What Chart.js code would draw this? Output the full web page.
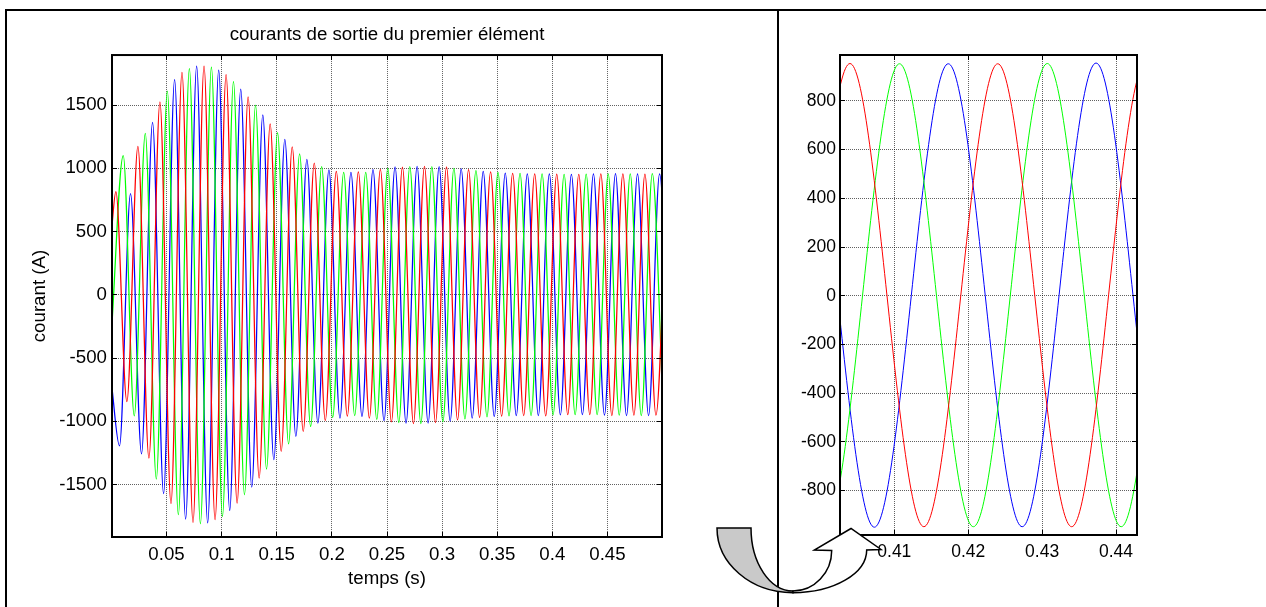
<!DOCTYPE html>
<html>
<head>
<meta charset="utf-8">
<title>courants de sortie du premier élément</title>
<script src="https://cdn.jsdelivr.net/npm/chart.js@4.4.1/dist/chart.umd.min.js"></script>
<style>
  html, body { margin: 0; padding: 0; background: #fff; overflow: hidden; }
  body { position: relative; width: 1266px; height: 607px; }
  #frame { position: absolute; left: 5px; top: 9px; width: 1400px; height: 800px; border: 2px solid #000; }
  #divider { position: absolute; left: 777px; top: 9px; width: 2px; height: 700px; background: #000; }
  canvas { position: absolute; top: 0; }
  #left { left: 0; }
  #right { left: 780px; }
  #arrow { position: absolute; left: 0; top: 0; }
</style>
</head>
<body>
<div id="frame"></div>
<div id="divider"></div>
<canvas id="left" width="770" height="607"></canvas>
<canvas id="right" width="486" height="607"></canvas>
<svg id="arrow" width="1266" height="607">
  <path d="M 717 528 L 751 528 C 751 562.8 769.8 591 793 591 L 793 592.7 C 751 592.7 717 563.7 717 528 Z"
        fill="#c9c9c9" stroke="#000" stroke-width="1.5"/>
  <path d="M 793 591 C 814.4 591 831.7 572.6 831.7 550.5 L 814.3 550 L 851 528.5 L 881 549.5 L 866.7 550 C 866.7 573.6 833.7 592.7 793 592.7 Z"
        fill="#fff" stroke="#000" stroke-width="1.5"/>
</svg>
<script>
// phase currents: successive crests / troughs, one every half period (50 Hz)
const halfPeriod = 0.01;
const redStart = 0.004;     // first red crest
const greenStart = 0.0107;  // first green crest
const blueStart = 0.0073;   // first blue trough
const initialValues = [500, -300, -700]; // red, green, blue at t = 0

const redExtrema = [816, -844, 1172, -1291, 1525, -1652, 1758, -1799, 1808, -1778,
    1740, -1647, 1565, -1449, 1350, -1238, 1170, -1080, 1040, -994,
    975, -960, 972, -975, 992, -1005, 1008, -1018, 1015, -1010,
    1010, -990, 990, -970, 972, -960, 960, -955, 956, -958,
    953, -948, 952, -948, 955, -955, 956, -952, 953, -952, 955];

const greenExtrema = [1100, -957, 1275, -1457, 1610, -1739, 1788, -1810, 1800, -1752,
    1685, -1581, 1500, -1378, 1282, -1178, 1113, -1041, 1012, -970,
    968, -955, 968, -985, 1000, -1010, 1012, -1018, 1012, -1005,
    1000, -982, 982, -965, 968, -958, 960, -955, 956, -950,
    952, -948, 953, -948, 955, -952, 955, -955, 957, -955];

const blueExtrema = [-1194, 800, -1257, 1362, -1573, 1700, -1773, 1808, -1804, 1775,
    -1705, 1625, -1520, 1422, -1304, 1228, -1120, 1070, -1014, 988,
    -975, 968, -962, 990, -995, 1010, -1015, 1015, -1015, 1012,
    -998, 995, -975, 975, -962, 962, -955, 956, -955, 955,
    -950, 952, -948, 955, -952, 958, -955, 955, -955, 955, -955];

const leftYTicks = [-1500, -1000, -500, 0, 500, 1000, 1500];
const rightYTicks = [-800, -600, -400, -200, 0, 200, 400, 600, 800];

const fontFamily = '"Liberation Sans", Arial, sans-serif';
const gridColor = 'rgba(0, 0, 0, 0.62)';

Chart.defaults.font.family = fontFamily;
Chart.defaults.color = '#000';

const toPoints = (first, t0, extrema) => [{x: 0, y: first}].concat(
    extrema.map((v, i) => ({x: +(t0 + i * halfPeriod).toFixed(4), y: v}))
);

const makeDatasets = (width) => [
    {data: toPoints(initialValues[0], redStart, redExtrema), borderColor: '#ff0000'},
    {data: toPoints(initialValues[1], greenStart, greenExtrema), borderColor: '#00ff00'},
    {data: toPoints(initialValues[2], blueStart, blueExtrema), borderColor: '#0000ff'}
].map(d => Object.assign(d, {
    borderWidth: width,
    pointRadius: 0,
    fill: false,
    cubicInterpolationMode: 'monotone',
    capBezierPoints: false
}));

const fmt = v => String(parseFloat(Number(v).toFixed(4)));

// box round the plot area with short inward ticks on all four sides
const axesBox = {
    id: 'axesBox',
    afterDraw(chart, args, opts) {
        const {ctx, chartArea: a, scales} = chart;
        const len = opts.tickLength;
        const align = p => Math.round(p - 0.5) + 0.5;
        ctx.save();
        ctx.strokeStyle = '#000';
        ctx.lineWidth = 1;
        ctx.beginPath();
        scales.x.ticks.forEach(t => {
            const px = align(scales.x.getPixelForValue(t.value));
            ctx.moveTo(px, a.bottom); ctx.lineTo(px, a.bottom - len);
            ctx.moveTo(px, a.top); ctx.lineTo(px, a.top + len);
        });
        scales.y.ticks.forEach(t => {
            const py = align(scales.y.getPixelForValue(t.value));
            ctx.moveTo(a.left, py); ctx.lineTo(a.left + len, py);
            ctx.moveTo(a.right, py); ctx.lineTo(a.right - len, py);
        });
        ctx.stroke();
        ctx.lineWidth = 2;
        ctx.strokeRect(a.left, a.top, a.right - a.left, a.bottom - a.top);
        ctx.restore();
    }
};

const axisX = (min, max, step, size, height, pad, title) => ({
    type: 'linear',
    min: min,
    max: max,
    afterFit: s => { s.height = height; },
    ticks: {stepSize: step, includeBounds: false, autoSkip: false, maxRotation: 0,
        padding: pad, font: {size: size}, callback: v => fmt(v)},
    grid: {color: gridColor, drawTicks: false},
    border: {display: false, dash: [1, 1]},
    title: title
});

const axisY = (min, max, tickValues, size, width, pad, title) => ({
    type: 'linear',
    min: min,
    max: max,
    afterFit: s => { s.width = width; },
    afterBuildTicks: s => { s.ticks = tickValues.map(v => ({value: v})); },
    ticks: {autoSkip: false, padding: pad, font: {size: size}, callback: v => fmt(v)},
    grid: {color: gridColor, drawTicks: false},
    border: {display: false, dash: [1, 1]},
    title: title
});

const baseOptions = () => ({
    responsive: false,
    animation: false,
    events: [],
    plugins: {
        legend: {display: false},
        tooltip: {enabled: false},
        axesBox: {tickLength: 5}
    }
});

const drawLeft = () => {
    const ctx = document.getElementById('left').getContext('2d');
    const options = baseOptions();
    options.layout = {padding: {left: 0, right: 108, top: 0, bottom: 0}};
    options.plugins.title = {
        display: true,
        fullSize: false,
        text: 'courants de sortie du premier élément',
        color: '#000',
        font: {size: 18.7, weight: 'normal'},
        padding: {top: 24, bottom: 8.6}
    };
    options.scales = {
        x: axisX(0.0005, 0.4995, 0.05, 18.7, 70, 7,
            {display: true, text: 'temps (s)', font: {size: 18.7}, padding: {top: 0, bottom: 16.8}}),
        y: axisY(-1915, 1895, leftYTicks, 18.7, 112, 5,
            {display: true, text: 'courant (A)', font: {size: 18.7}, padding: {top: 29, bottom: 0}})
    };
    new Chart(ctx, {type: 'line', data: {datasets: makeDatasets(1.25)}, options: options, plugins: [axesBox]});
};

const drawRight = () => {
    const ctx = document.getElementById('right').getContext('2d');
    const options = baseOptions();
    options.layout = {padding: {left: 0, right: 129, top: 55, bottom: 0}};
    options.scales = {
        x: axisX(0.40265, 0.44284, 0.01, 17.5, 72, 7, {display: false}),
        y: axisY(-982, 988, rightYTicks, 17.5, 60, 4, {display: false})
    };
    new Chart(ctx, {type: 'line', data: {datasets: makeDatasets(1)}, options: options, plugins: [axesBox]});
};

drawLeft();
drawRight();
</script>
</body>
</html>
